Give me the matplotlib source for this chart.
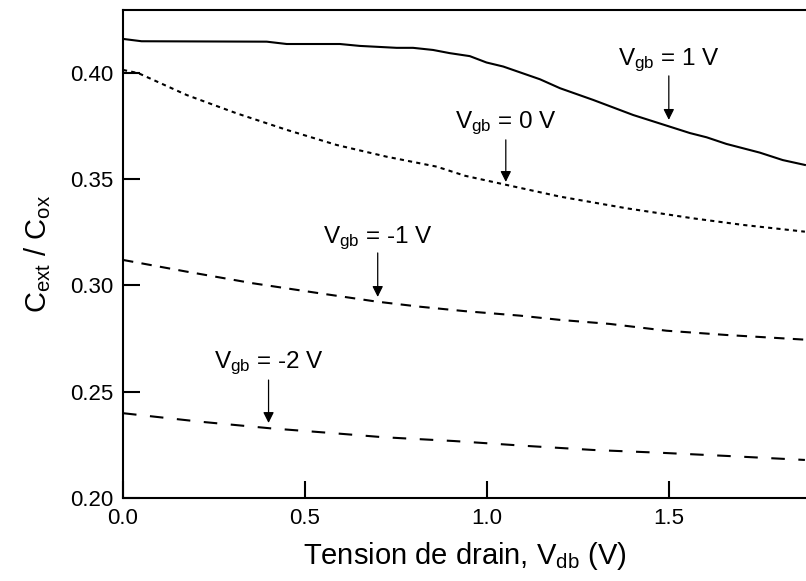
import matplotlib
matplotlib.use("Agg")
import matplotlib.pyplot as plt

plt.rcParams['font.family'] = ['Liberation Sans', 'DejaVu Sans']
plt.rcParams['mathtext.fontset'] = 'custom'
plt.rcParams['mathtext.rm'] = 'Liberation Sans'
plt.rcParams['mathtext.it'] = 'Liberation Sans'
plt.rcParams['mathtext.bf'] = 'Liberation Sans'

# Data (V_db in volts, C_ext/C_ox)
x_p1 = [0.0, 0.051, 0.395, 0.45, 0.596, 0.651, 0.752, 0.797, 0.852, 0.898, 0.953, 0.999,
        1.045, 1.146, 1.201, 1.292, 1.402, 1.503, 1.558, 1.604, 1.658, 1.75, 1.813, 1.874]
y_p1 = [0.416, 0.4149, 0.4147, 0.4136, 0.4136, 0.4127, 0.4118, 0.4118, 0.4108, 0.4093, 0.4079, 0.4049,
        0.4030, 0.3970, 0.3928, 0.3873, 0.3802, 0.3747, 0.3717, 0.3697, 0.3666, 0.3625, 0.3590, 0.3567]

x_0 = [0.0, 0.042, 0.175, 0.312, 0.45, 0.587, 0.724, 0.862, 0.94, 1.054, 1.201, 1.384, 1.566, 1.703, 1.874]
y_0 = [0.4014, 0.3999, 0.3896, 0.3810, 0.3732, 0.3661, 0.3606, 0.3559, 0.3516, 0.3473, 0.3418, 0.3363, 0.3316, 0.3285, 0.3253]

x_m1 = [0.0, 0.175, 0.358, 0.541, 0.697, 0.816, 0.94, 1.091, 1.201, 1.338, 1.494, 1.658, 1.874]
y_m1 = [0.3120, 0.3065, 0.3010, 0.2963, 0.2924, 0.2900, 0.2879, 0.2858, 0.2838, 0.2819, 0.2787, 0.2767, 0.2745]

x_m2 = [0.0, 0.212, 0.404, 0.578, 0.715, 0.91, 1.109, 1.292, 1.475, 1.658, 1.874]
y_m2 = [0.2399, 0.2359, 0.2328, 0.2305, 0.2286, 0.2268, 0.2245, 0.2226, 0.2213, 0.2198, 0.2179]

labels = [r'V$_{\rm gb}$ = 1 V', r'V$_{\rm gb}$ = 0 V', r'V$_{\rm gb}$ = -1 V', r'V$_{\rm gb}$ = -2 V']
arrow_x = [1.5, 1.052, 0.70, 0.40]
arrow_tail = [0.3986, 0.3685, 0.3153, 0.2555]
arrow_tip = [0.3779, 0.3487, 0.2946, 0.2353]
text_y = [0.4038, 0.3741, 0.3200, 0.2612]

xticks = [0.0, 0.5, 1.0, 1.5]
yticks = [0.20, 0.25, 0.30, 0.35, 0.40]

fig = plt.figure(figsize=(8.06, 5.81), dpi=100)
ax = fig.add_axes([123/806, 1-498/581, 1-123/806, (498-10)/581])

lw = 1.5
ax.plot(x_p1, y_p1, color='black', lw=lw, linestyle='-')
ax.plot(x_0, y_0, color='black', lw=lw, linestyle=(0, (2, 2)))
ax.plot(x_m1, y_m1, color='black', lw=lw, linestyle=(0, (5, 4)))
ax.plot(x_m2, y_m2, color='black', lw=lw, linestyle=(0, (6.5, 6.5)))

for lab, ax_x, t0, t1, ty in zip(labels, arrow_x, arrow_tail, arrow_tip, text_y):
    ax.annotate('', xy=(ax_x, t1), xytext=(ax_x, t0),
                arrowprops=dict(arrowstyle='-|>', color='black', lw=0.9,
                                mutation_scale=16, shrinkA=0, shrinkB=0))
    ax.text(ax_x, ty, lab, ha='center', va='baseline', fontsize=17.5)

ax.set_xlim(0, 1.877)
ax.set_ylim(0.20, 0.4296)
ax.set_xticks(xticks)
ax.set_xticklabels([f'{v:.1f}' for v in xticks])
ax.set_yticks(yticks)
ax.set_yticklabels([f'{v:.2f}' for v in yticks])
ax.spines['right'].set_visible(False)
for s in ['left', 'bottom', 'top']:
    ax.spines[s].set_linewidth(1.5)
ax.tick_params(direction='in', length=12, width=1.5, labelsize=16, pad=7)

ax.set_xlabel(r'Tension de drain, V$_{\rm db}$ (V)', fontsize=21, labelpad=8)
ax.set_ylabel(r'C$_{\rm ext}$ / C$_{\rm ox}$', fontsize=21, labelpad=12)

fig.savefig('out.png', dpi=100)
